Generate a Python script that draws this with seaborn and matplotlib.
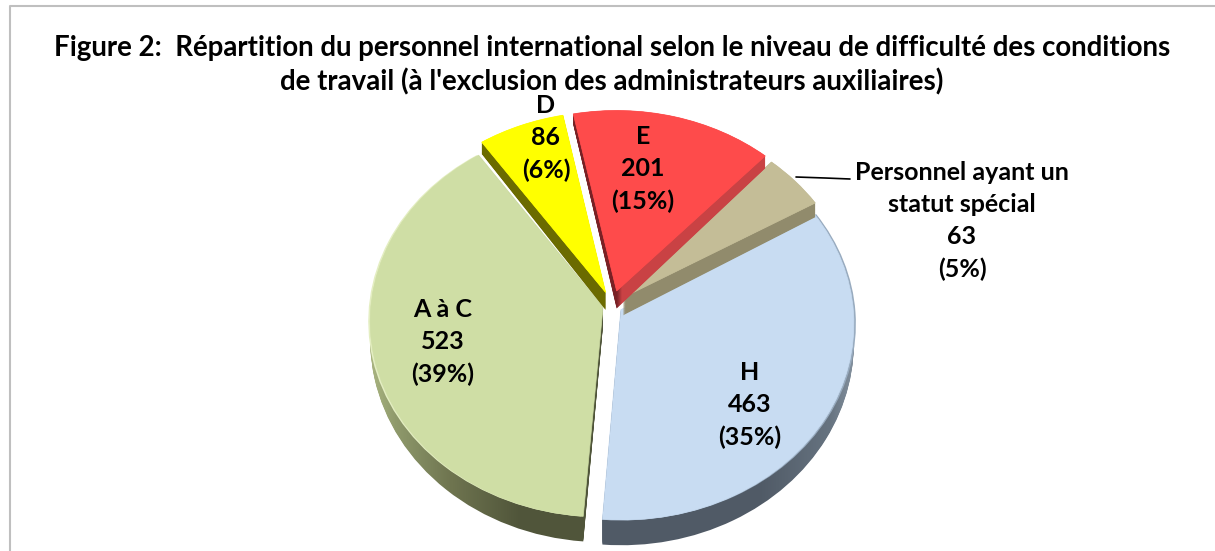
import numpy as np
import matplotlib
matplotlib.use('Agg')
import matplotlib.pyplot as plt
import matplotlib.transforms as mtransforms
from matplotlib.colors import LinearSegmentedColormap
import seaborn as sns

# data, clockwise from the top of the pie
names = ['E', 'Personnel ayant un\nstatut spécial', 'H', 'A à C', 'D']
values = [201, 63, 463, 523, 86]
percents = [15, 5, 35, 39, 6]
explode = [0.075, 0.06, 0.045, 0.04, 0.07]
top_colors = ['#fe4b4b', '#c4bd97', '#c8dcf2', '#cfdea5', '#ffff00']
rim_colors = ['#f25050', '#c0b998', '#98abbf', '#e4eec2', '#ffff20']
rim_shift = [0, 0, 2, -2, 0]
draw_order = [5, 3, 2, 1, 4]

title = ("Figure 2:  Répartition du personnel international selon le niveau de difficulté des conditions\n"
         "de travail (à l'exclusion des administrateurs auxiliaires)")

# wall shading, (pixel x, colour)
wall_stops = [[(360, '#6b1f22'), (617, '#7a2226'), (622, '#c94244'), (860, '#c94244')],
              [(360, '#918b6c'), (860, '#918b6c')],
              [(360, '#505a66'), (760, '#505a66'), (830, '#667380'), (860, '#8a97a5')],
              [(360, '#b5c08a'), (395, '#8f9a6c'), (450, '#6f7550'), (520, '#50553a'), (860, '#50553a')],
              [(360, '#6b6b00'), (860, '#6b6b00')]]

W, H = 1215, 551
CX, CY = 612, 305
RX, RY = 232, 195
K = 0.07
DEPTH = 25
START = 101.5


class Persp(mtransforms.Transform):
    # unit pie -> picture pixels, tilted towards the viewer
    input_dims = 2
    output_dims = 2
    is_separable = False

    def __init__(self, drop=0, shift=0):
        super().__init__()
        self.drop = drop
        self.shift = shift

    def transform_non_affine(self, values):
        x, y = values[:, 0], values[:, 1]
        w = 1 + K * y
        px = CX + RX * x / w + self.shift
        py = CY - RY * y / w + self.drop * (0.72 - 0.28 * y)
        return np.column_stack([px, py])


sns.set_theme(style='white')
plt.rcParams['font.family'] = ['Lato', 'DejaVu Sans']

fig = plt.figure(figsize=(W / 100, H / 100), dpi=100)
ax = fig.add_axes([0, 0, 1, 1])

cmaps = [LinearSegmentedColormap.from_list('wall%d' % i, [((x - 360) / 500, c) for x, c in s], N=500)
         for i, s in enumerate(wall_stops)]
shade = np.linspace(0, 1, 500)[None, :]

# side walls, stacked from the bottom layer up
for drop in range(DEPTH, 0, -1):
    wedges, _ = ax.pie(values, explode=explode, startangle=START, counterclock=False)
    for i, w in enumerate(wedges):
        z = draw_order[i] + 0.5 - drop / 100
        w.set_transform(Persp(drop) + ax.transData)
        w.set_facecolor('none')
        w.set_edgecolor('none')
        w.set_zorder(z)
        im = ax.imshow(shade, extent=(360, 860, H, 0), cmap=cmaps[i], vmin=0, vmax=1,
                       aspect='auto', zorder=z)
        im.set_clip_path(w)

# bevel showing round the outer edge
wedges, _ = ax.pie(values, explode=explode, startangle=START, counterclock=False)
for i, w in enumerate(wedges):
    w.set_transform(Persp(0, rim_shift[i]) + ax.transData)
    w.set_facecolor(rim_colors[i])
    w.set_edgecolor('none')
    w.set_zorder(draw_order[i] + 0.55)

# top faces
wedges, _ = ax.pie(values, explode=explode, startangle=START, counterclock=False)
for i, w in enumerate(wedges):
    w.set_transform(Persp(0) + ax.transData)
    w.set_facecolor(top_colors[i])
    w.set_edgecolor(top_colors[i])
    w.set_linewidth(0.5)
    w.set_zorder(draw_order[i] + 0.6)

ax.set_aspect('auto')
ax.set_xlim(0, W)
ax.set_ylim(H, 0)
ax.axis('off')

# frame of the chart area
ax.plot([10, 10, W], [H, 6, 6], color='#bfbfbf', lw=1.5, zorder=0)

ax.text(612, 65, title, ha='center', va='center', fontsize=19.9, fontweight='bold',
        color='black', linespacing=1.35, zorder=10)

label_xy = [(643, 169), (962, 221), (750, 405), (443, 342), (546, 138)]
for name, val, pct, (x, y) in zip(names, values, percents, label_xy):
    ax.text(x, y, '%s\n%d\n(%d%%)' % (name, val, pct), ha='center', va='center',
            fontsize=18, fontweight='bold', color='black', linespacing=1.48, zorder=10)

# leader line for the small slice
ax.plot([796, 825, 850], [177, 178, 179], color='black', lw=1.2, zorder=10)

fig.savefig('out.png', dpi=100)
